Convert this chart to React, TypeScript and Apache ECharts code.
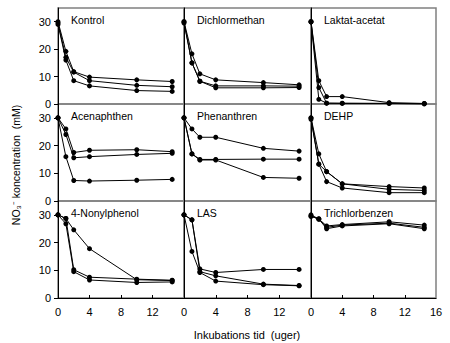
import React, { useEffect, useRef } from "react";
import * as echarts from "echarts";

const weeks = [0, 1, 2, 4, 10, 14.5];

const panelNames = [
  "Kontrol", "Dichlormethan", "Laktat-acetat",
  "Acenaphthen", "Phenanthren", "DEHP",
  "4-Nonylphenol", "LAS", "Trichlorbenzen",
];

const kontrol = [
  [30, 19.2, 11.8, 9.8, 8.8, 8.2],
  [29.5, 17, 11.6, 8.5, 6.8, 6.3],
  [29, 16, 8.5, 6.6, 4.9, 4.6],
];
const dichlormethan = [
  [30, 18.3, 11, 8.8, 7.8, 7],
  [30, 15, 8.3, 6.6, 6.6, 6.5],
  [29.5, 15, 8.3, 5.9, 5.9, 6],
];
const laktatAcetat = [
  [30, 8.5, 2.7, 2.7, 0.5, 0.2],
  [30, 6, 0.3, 0.3, 0.2, 0.1],
  [30, 1.7, 0.3, 0.2, 0.2, 0.1],
];
const acenaphthen = [
  [30, 26, 17.5, 18.3, 18.5, 17.8],
  [30, 24, 15.6, 16, 16.8, 17.2],
  [30, 16, 7.4, 7.2, 7.5, 7.8],
];
const phenanthren = [
  [30, 26, 23, 23, 19, 18],
  [30, 17, 15, 15, 15.1, 15.1],
  [30, 17, 14.8, 14.8, 8.5, 8.2],
];
const dehp = [
  [30, 17, 10.6, 6.2, 5.2, 4.7],
  [30, 13.3, 10.6, 6.2, 4.2, 3.8],
  [29.5, 13.3, 7, 4.7, 3, 3],
];
const nonylphenol = [
  [30, 28.7, 24.6, 17.8, 6.6, 6.3],
  [30, 28.7, 10.2, 7.5, 6.8, 6.4],
  [30, 26.8, 9.5, 6.5, 5.6, 5.8],
];
const las = [
  [30, 28.2, 10.5, 9.2, 10.3, 10.3],
  [30, 28.2, 9.5, 8, 5, 4.5],
  [30, 16.8, 9.2, 6.1, 4.8, 4.4],
];
const trichlorbenzen = [
  [30, 28.5, 26, 26.5, 27.5, 26.3],
  [29.5, 28.5, 25.5, 26.3, 27, 25.5],
  [29.5, 28.5, 25, 26, 26.8, 25],
];

const panelData = [
  kontrol, dichlormethan, laktatAcetat,
  acenaphthen, phenanthren, dehp,
  nonylphenol, las, trichlorbenzen,
];

const yTicks = [0, 10, 20, 30];
const xTicksInner = [0, 4, 8, 12];
const xTicksLast = [0, 4, 8, 12, 16];

const yAxisTitle = "NO₃⁻ koncentration  (mM)";
const xAxisTitle = "Inkubations tid  (uger)";

const colLeft = [58, 184, 311];
const colW = [126, 127, 125];
const rowTop = [8, 104, 201];
const rowH = [96, 97, 97];

const FONT = "Liberation Sans, Arial, sans-serif";
const GRAY = "#808080";

export default function App() {
  const ref = useRef<HTMLDivElement>(null);
  useEffect(() => {
    if (!ref.current) return;
    const chart = echarts.init(ref.current, undefined, { renderer: "svg" });
    const grid: any[] = [];
    const xAxis: any[] = [];
    const yAxis: any[] = [];
    const series: any[] = [];
    const graphic: any[] = [];
    for (let r = 0; r < 3; r++) {
      for (let c = 0; c < 3; c++) {
        const i = r * 3 + c;
        grid.push({
          left: colLeft[c],
          top: rowTop[r],
          width: colW[c],
          height: rowH[r],
          show: true,
          borderColor: GRAY,
          borderWidth: 1.5,
          backgroundColor: "transparent",
        });
        xAxis.push({
          type: "value",
          gridIndex: i,
          min: 0,
          max: 16,
          splitLine: { show: false },
          axisLine: { show: r === 2, onZero: false, lineStyle: { color: "#000", width: 1 } },
          axisTick: {
            show: r === 2,
            inside: true,
            length: 3,
            customValues: [4, 8, 12],
            lineStyle: { color: "#000" },
          },
          axisLabel: {
            show: r === 2,
            customValues: c === 2 ? xTicksLast : xTicksInner,
            fontFamily: FONT,
            fontSize: 11,
            color: "#000",
            margin: 8,
          },
        });
        yAxis.push({
          type: "value",
          gridIndex: i,
          min: 0,
          max: 35,
          splitLine: { show: false },
          axisLine: { show: true, onZero: false, lineStyle: { color: "#000", width: 1 } },
          axisTick: {
            show: c === 0,
            length: 4,
            customValues: yTicks,
            lineStyle: { color: "#000" },
          },
          axisLabel: {
            show: c === 0,
            customValues: yTicks,
            fontFamily: FONT,
            fontSize: 11,
            color: "#000",
            margin: 7,
          },
        });
        panelData[i].forEach((vals) => {
          series.push({
            type: "line",
            xAxisIndex: i,
            yAxisIndex: i,
            data: weeks.map((t, k) => [t, vals[k]]),
            symbol: "circle",
            symbolSize: 5,
            clip: false,
            lineStyle: { color: "#000", width: 1 },
            itemStyle: { color: "#000" },
          });
        });
        graphic.push({
          type: "text",
          left: colLeft[c] + 13,
          top: rowTop[r] + 6,
          style: {
            text: panelNames[i],
            font: `10.5px ${FONT}`,
            fill: "#000",
          },
        });
      }
    }
    graphic.push({
      type: "text",
      x: 16,
      y: 165,
      rotation: Math.PI / 2,
      style: {
        text: yAxisTitle,
        font: `10.5px ${FONT}`,
        fill: "#000",
        align: "center",
        verticalAlign: "middle",
      },
    });
    graphic.push({
      type: "text",
      x: 247,
      y: 335,
      style: {
        text: xAxisTitle,
        font: `11px ${FONT}`,
        fill: "#000",
        align: "center",
        verticalAlign: "middle",
      },
    });
    chart.setOption({
      animation: false,
      backgroundColor: "#fff",
      grid,
      xAxis,
      yAxis,
      series,
      graphic,
    });
    return () => chart.dispose();
  }, []);
  return (
    <div
      ref={ref}
      style={{ position: "fixed", left: 0, top: 0, width: 450, height: 343 }}
    />
  );
}
